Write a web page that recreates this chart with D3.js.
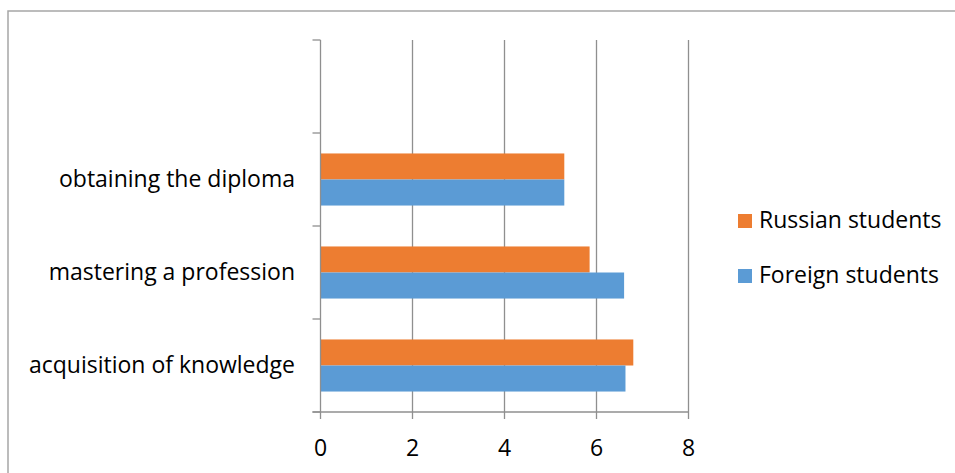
<!DOCTYPE html>
<html>
<head>
<meta charset="utf-8">
<script src="https://cdn.jsdelivr.net/npm/d3@7"></script>
<style>
  html, body { margin: 0; padding: 0; background: #fff; }
  svg { display: block; }
  text { font-family: "Open Sans", sans-serif; fill: #000; }
</style>
</head>
<body>
<svg id="chart" width="955" height="473"></svg>
<script>
// Categories from bottom to top; the top slot is left empty
const categories = ["acquisition of knowledge", "mastering a profession", "obtaining the diploma", ""];
const russianStudents = [6.8, 5.85, 5.3, null];
const foreignStudents = [6.63, 6.6, 5.3, null];
const xTicks = [0, 2, 4, 6, 8];
const seriesNames = ["Russian students", "Foreign students"];
const seriesColors = ["#ED7D31", "#5B9BD5"];

const svg = d3.select("#chart");
const fontSize = 23;

// Outer chart frame (open to the right and bottom)
svg.append("rect")
  .attr("x", 8).attr("y", 11)
  .attr("width", 980).attr("height", 500)
  .attr("fill", "none").attr("stroke", "#a6a6a6").attr("stroke-width", 1.5);

const plot = { left: 320.5, right: 688.5, top: 40, bottom: 412 };

const x = d3.scaleLinear().domain([0, 8]).range([plot.left, plot.right]);
// Bands listed top-down so the first category sits at the bottom
const y = d3.scaleBand()
  .domain(d3.range(categories.length).reverse())
  .range([plot.top, plot.bottom]);

const g = svg.append("g");

// Vertical gridlines
g.selectAll("line.grid")
  .data(xTicks.filter(t => t > 0))
  .join("line")
  .attr("class", "grid")
  .attr("x1", d => x(d)).attr("x2", d => x(d))
  .attr("y1", plot.top).attr("y2", plot.bottom)
  .attr("stroke", "#8f8f8f").attr("stroke-width", 1.3);

// Bars: each category holds a Russian bar above a Foreign bar
const groupFrac = 0.56;
const barH = y.bandwidth() * groupFrac / 2;
const series = [russianStudents, foreignStudents];
series.forEach((vals, si) => {
  g.selectAll(null)
    .data(vals.map((v, i) => ({ v, i })).filter(d => d.v != null))
    .join("rect")
    .attr("x", x(0))
    .attr("y", d => y(d.i) + y.bandwidth() * (1 - groupFrac) / 2 + si * barH)
    .attr("width", d => x(d.v) - x(0))
    .attr("height", barH)
    .attr("fill", seriesColors[si]);
});

// Y axis line with tick marks at the band edges
const yEdges = d3.range(categories.length + 1).map(i => plot.top + i * y.step());
g.append("line")
  .attr("x1", x(0)).attr("x2", x(0))
  .attr("y1", plot.top).attr("y2", plot.bottom)
  .attr("stroke", "#8f8f8f").attr("stroke-width", 1.3);
g.selectAll("line.ytick")
  .data(yEdges)
  .join("line")
  .attr("class", "ytick")
  .attr("x1", x(0) - 8).attr("x2", x(0))
  .attr("y1", d => d).attr("y2", d => d)
  .attr("stroke", "#8f8f8f").attr("stroke-width", 1.3);

// X axis line and ticks
g.append("line")
  .attr("x1", x(0) - 8).attr("x2", x(8))
  .attr("y1", plot.bottom).attr("y2", plot.bottom)
  .attr("stroke", "#8f8f8f").attr("stroke-width", 1.3);
g.selectAll("line.xtick")
  .data(xTicks)
  .join("line")
  .attr("class", "xtick")
  .attr("x1", d => x(d)).attr("x2", d => x(d))
  .attr("y1", plot.bottom).attr("y2", plot.bottom + 7)
  .attr("stroke", "#8f8f8f").attr("stroke-width", 1.3);

// X tick labels
g.selectAll("text.xlab")
  .data(xTicks)
  .join("text")
  .attr("class", "xlab")
  .attr("x", d => x(d))
  .attr("y", 456)
  .attr("text-anchor", "middle")
  .style("font-size", fontSize + "px")
  .text(d => d);

// Category labels
g.selectAll("text.ylab")
  .data(categories)
  .join("text")
  .attr("class", "ylab")
  .attr("x", 295)
  .attr("y", (d, i) => y(i) + y.bandwidth() / 2 + 7)
  .attr("text-anchor", "end")
  .style("font-size", fontSize + "px")
  .text(d => d);

// Legend
const legend = svg.append("g");
seriesNames.forEach((name, i) => {
  const ly = 228 + i * 55;
  legend.append("rect")
    .attr("x", 738).attr("y", ly - 14)
    .attr("width", 14).attr("height", 14)
    .attr("fill", seriesColors[i]);
  legend.append("text")
    .attr("x", 759).attr("y", ly)
    .style("font-size", fontSize + "px")
    .text(name);
});
</script>
</body>
</html>
